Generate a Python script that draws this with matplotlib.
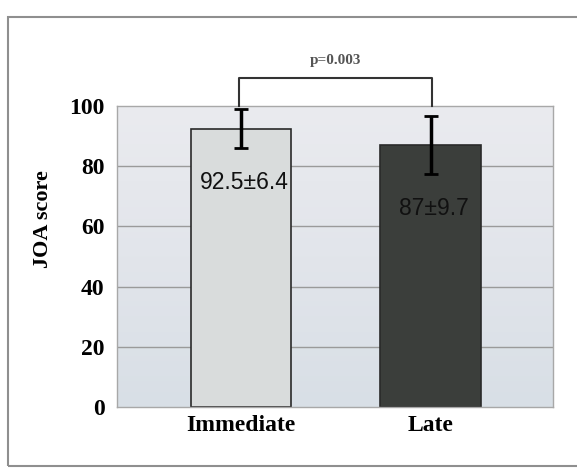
import matplotlib
matplotlib.use("Agg")
import matplotlib.pyplot as plt
import numpy as np
from matplotlib.patches import Rectangle
from matplotlib.colors import LinearSegmentedColormap

categories = ["Immediate", "Late"]
means = [92.5, 87.0]
sds = [6.4, 9.7]
value_labels = ["92.5\u00b16.4", "87\u00b19.7"]
yticks = [0, 20, 40, 60, 80, 100]
p_text = "p=0.003"

W, H = 577, 468
fig = plt.figure(figsize=(W / 100, H / 100), dpi=100)
fig.patch.set_facecolor("white")

# outer frame
fig.patches.append(Rectangle((8 / W, 2 / H), (W + 10) / W, (H - 17) / H - 2 / H,
                             transform=fig.transFigure, fill=False,
                             edgecolor="#8f8f8f", lw=1.5))

ax = fig.add_axes([117 / W, 1 - 407 / H, 436 / W, 301 / H])
x = np.arange(len(categories))
ax.set_xlim(-0.654, 1.646)
ax.set_ylim(0, 100)

# background gradient
cmap = LinearSegmentedColormap.from_list("bg", ["#d8dfe6", "#e2e5eb", "#eaebef"])
grad = np.linspace(0, 1, 256).reshape(-1, 1)
ax.imshow(grad, extent=[-0.654, 1.646, 0, 100], origin="lower", aspect="auto",
          cmap=cmap, zorder=0)

for yv in yticks[1:-1]:
    ax.axhline(yv, color="#9a9a9a", lw=1.0, zorder=1)

colors = ["#d9dcdc", "#3b3e3b"]
ax.bar(x, means, width=0.528, color=colors, edgecolor="#2a2a2a", lw=1.2, zorder=2)
ax.errorbar(x, means, yerr=sds, fmt="none", ecolor="black", elinewidth=2.5,
            capsize=5, capthick=2.0, zorder=3)

label_y = [74.5, 66.0]
for xi, lab, ly in zip(x, value_labels, label_y):
    ax.text(xi + 0.015, ly, lab, ha="center", va="center", fontsize=16.5,
            family="Liberation Sans", color="#111111", zorder=4)

# significance bracket
br_y = 109.3
ax.plot([x[0] - 0.013, x[0] - 0.013, x[1] + 0.01, x[1] + 0.01], [100, br_y, br_y, 100],
        color="#333333", lw=1.5, clip_on=False, zorder=4)
ax.text((x[0] + x[1]) / 2, 115.0, p_text, ha="center", va="center", fontsize=11,
        family="Liberation Serif", fontweight="bold", color="#555555")

ax.set_xticks(x)
ax.set_xticklabels(categories, family="Liberation Serif", fontweight="bold", fontsize=17)
ax.set_yticks(yticks)
ax.set_yticklabels([str(v) for v in yticks], family="Liberation Serif",
                   fontweight="bold", fontsize=17)
ax.tick_params(axis="both", length=0)
ax.tick_params(axis="y", pad=9)
ax.tick_params(axis="x", pad=6)
ax.set_ylabel("JOA score", family="Liberation Serif", fontweight="bold", fontsize=16)
ax.yaxis.set_label_coords(-(117 - 53) / 436, (407 - 219) / 301)
for s in ax.spines.values():
    s.set_color("#a8a8a8")
    s.set_linewidth(1.0)

fig.savefig("out.png", dpi=100)
